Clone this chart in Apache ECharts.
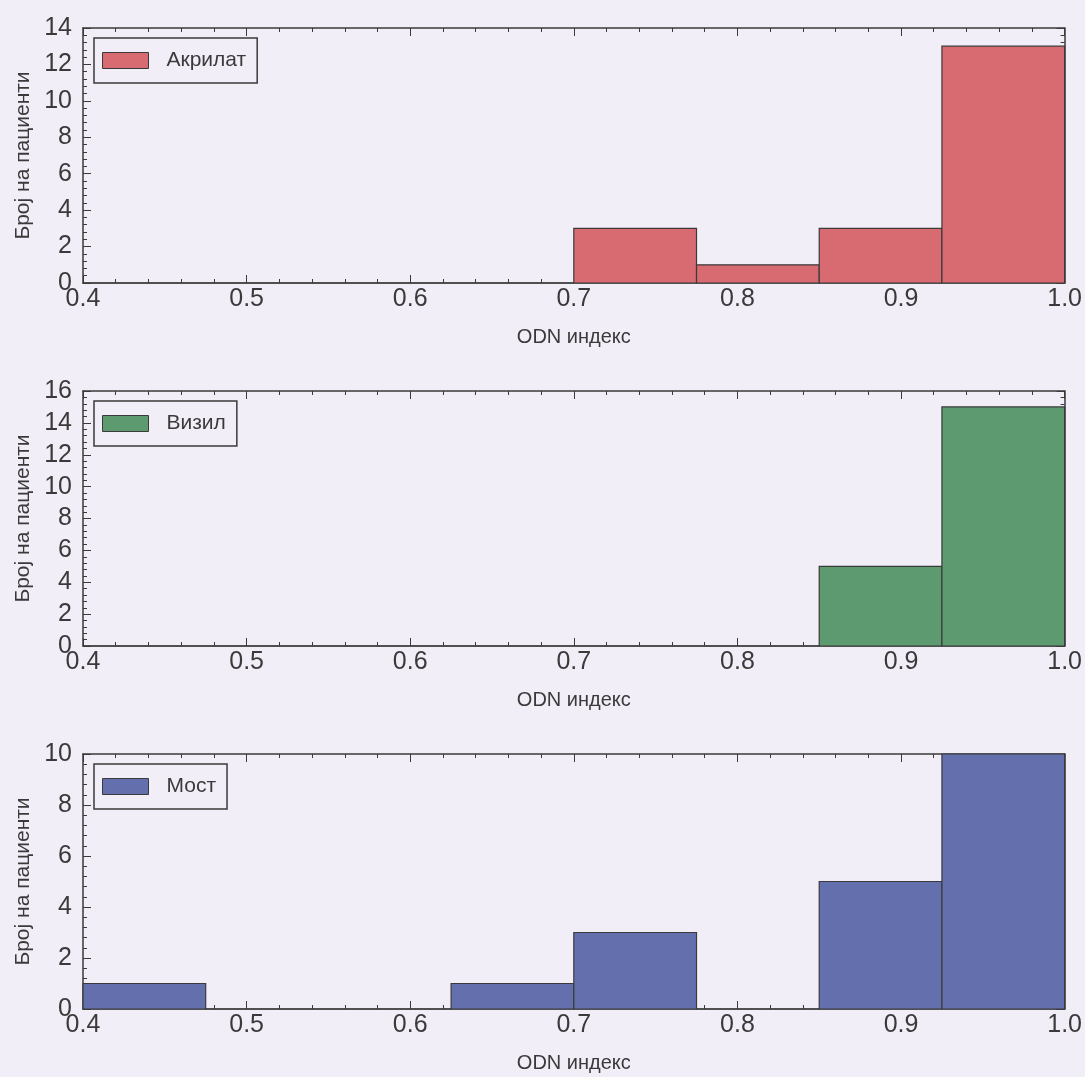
<!DOCTYPE html>
<html>
<head>
<meta charset="utf-8">
<script src="https://cdn.jsdelivr.net/npm/echarts@6/dist/echarts.min.js"></script>
<style>
  html, body { margin: 0; padding: 0; background: #f2eef8; }
  #main { width: 1085px; height: 1077px; }
</style>
</head>
<body>
<div id="main"></div>
<script>
// histogram bins (ODN index), shared by all three panels
var binEdges = [0.4, 0.475, 0.55, 0.625, 0.7, 0.775, 0.85, 0.925, 1.0];

var akrilatCounts = [0, 0, 0, 0, 3, 1, 3, 13];
var vizilCounts   = [0, 0, 0, 0, 0, 0, 5, 15];
var mostCounts    = [1, 0, 0, 1, 3, 0, 5, 10];

var seriesNames = ['Акрилат', 'Визил', 'Мост'];
var yMaxes = [14, 16, 10];

var xName = 'ODN индекс';
var yName = 'Број на пациенти';

var chart = echarts.init(document.getElementById('main'));

var sans = "'Liberation Sans', Arial, sans-serif";
var ink = '#3a3a3a';
var bg = '#f2eef8';

var panels = [
  { name: seriesNames[0], counts: akrilatCounts, ymax: yMaxes[0], color: '#d86b72', top: 28 },
  { name: seriesNames[1], counts: vizilCounts,   ymax: yMaxes[1], color: '#5d9a6f', top: 391 },
  { name: seriesNames[2], counts: mostCounts,    ymax: yMaxes[2], color: '#6470ae', top: 754 }
];

var grids = [], xAxes = [], yAxes = [], series = [], legends = [];

function axisCommon() {
  return {
    axisLine: { show: true, onZero: false, lineStyle: { color: ink, width: 1.5 } },
    axisTick: { show: true, inside: true, length: 8, lineStyle: { color: ink, width: 1 } },
    minorTick: { show: true, splitNumber: 5, length: 4, lineStyle: { color: ink, width: 1 } },
    splitLine: { show: false }
  };
}

panels.forEach(function (p, i) {
  grids.push({ left: 83, right: 19, top: p.top, height: 255 });

  // bottom x axis with labels
  xAxes.push(Object.assign(axisCommon(), {
    type: 'value', gridIndex: i, position: 'bottom',
    min: 0.4, max: 1.0, interval: 0.1,
    name: xName, nameLocation: 'middle', nameGap: 44,
    nameTextStyle: { fontFamily: sans, fontSize: 20, color: ink },
    axisLabel: {
      margin: 4, fontFamily: sans, fontSize: 25, color: ink,
      formatter: function (v) { return v.toFixed(1); }
    }
  }));
  // top x axis (ticks only)
  xAxes.push(Object.assign(axisCommon(), {
    type: 'value', gridIndex: i, position: 'top',
    min: 0.4, max: 1.0, interval: 0.1,
    axisLabel: { show: false }
  }));

  // left y axis with labels
  yAxes.push(Object.assign(axisCommon(), {
    type: 'value', gridIndex: i, position: 'left',
    min: 0, max: p.ymax, interval: 2,
    name: yName, nameLocation: 'middle', nameGap: 48,
    nameTextStyle: { fontFamily: sans, fontSize: 21, color: ink },
    axisLabel: { margin: 11, fontFamily: sans, fontSize: 25, color: ink }
  }));
  // right y axis (ticks only)
  yAxes.push(Object.assign(axisCommon(), {
    type: 'value', gridIndex: i, position: 'right',
    min: 0, max: p.ymax, interval: 2,
    axisLabel: { show: false }
  }));

  var data = p.counts.map(function (c, k) {
    return [binEdges[k], binEdges[k + 1], c];
  });

  series.push({
    type: 'custom',
    name: p.name,
    xAxisIndex: i * 2,
    yAxisIndex: i * 2,
    itemStyle: { color: p.color },
    encode: { x: [0, 1], y: 2 },
    data: data,
    renderItem: function (params, api) {
      var a = api.coord([api.value(0), api.value(2)]);
      var b = api.coord([api.value(1), 0]);
      return {
        type: 'rect',
        shape: { x: a[0], y: a[1], width: b[0] - a[0], height: b[1] - a[1] },
        style: { fill: p.color, stroke: '#3a3a3a', lineWidth: 1.2 }
      };
    }
  });

  legends.push({
    data: [{ name: p.name, icon: 'rect' }],
    left: 94,
    top: p.top + 10,
    orient: 'vertical',
    padding: [12, 11, 12, 8],
    borderColor: ink,
    borderWidth: 1.5,
    backgroundColor: bg,
    itemWidth: 46,
    itemHeight: 16,
    itemStyle: { borderColor: '#3a3a3a', borderWidth: 1 },
    textStyle: { fontFamily: sans, fontSize: 21, color: ink, padding: [0, 0, 0, 13] },
    selectedMode: false
  });
});

var option = {
  backgroundColor: bg,
  animation: false,
  grid: grids,
  xAxis: xAxes,
  yAxis: yAxes,
  legend: legends,
  series: series
};

chart.setOption(option);
</script>
</body>
</html>
